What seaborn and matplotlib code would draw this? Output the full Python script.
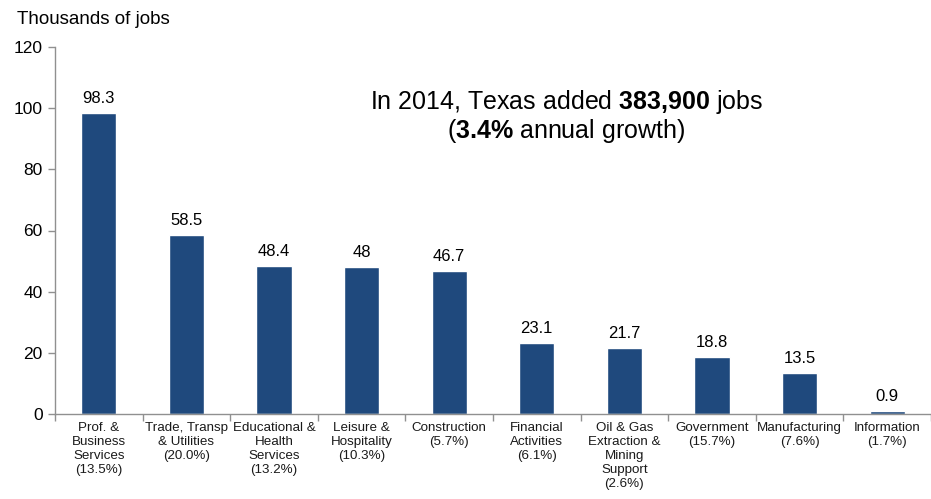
import matplotlib
matplotlib.use("Agg")
import matplotlib.pyplot as plt
import seaborn as sns
import pandas as pd
from matplotlib.ticker import FixedLocator

categories = [
    "Prof. &\nBusiness\nServices\n(13.5%)",
    "Trade, Transp\n& Utilities\n(20.0%)",
    "Educational &\nHealth\nServices\n(13.2%)",
    "Leisure &\nHospitality\n(10.3%)",
    "Construction\n(5.7%)",
    "Financial\nActivities\n(6.1%)",
    "Oil & Gas\nExtraction &\nMining\nSupport\n(2.6%)",
    "Government\n(15.7%)",
    "Manufacturing\n(7.6%)",
    "Information\n(1.7%)",
]
values = [98.3, 58.5, 48.4, 48, 46.7, 23.1, 21.7, 18.8, 13.5, 0.9]
value_labels = ["98.3", "58.5", "48.4", "48", "46.7", "23.1", "21.7", "18.8", "13.5", "0.9"]
yticks = [0, 20, 40, 60, 80, 100, 120]

sns.set_theme(style="white")
plt.rcParams["font.family"] = ["Liberation Sans", "DejaVu Sans"]
plt.rcParams["text.color"] = "black"
plt.rcParams["mathtext.fontset"] = "custom"
plt.rcParams["mathtext.rm"] = "Liberation Sans"
plt.rcParams["mathtext.bf"] = "Liberation Sans:bold"

df = pd.DataFrame({"cat": categories, "val": values})

fig = plt.figure(figsize=(9.31, 4.99), dpi=100)
ax = fig.add_axes([55 / 931, 1 - 414 / 499, 876 / 931, (414 - 47) / 499])

sns.barplot(data=df, x="cat", y="val", color="#1F497D", saturation=1,
            width=0.4, ax=ax)

ax.set_xlim(-0.5, len(categories) - 0.5)
ax.set_ylim(0, 120)
ax.set_yticks(yticks)
ax.set_yticklabels([str(t) for t in yticks], fontsize=12.5, color="black")
ax.set_xlabel("")
ax.set_ylabel("")

ax.set_xticks(range(len(categories)))
ax.set_xticklabels(categories, fontsize=9.6, color="#1a1a1a", linespacing=1.22,
                   va="top")
ax.tick_params(axis="x", which="major", length=0, pad=6)
ax.xaxis.set_minor_locator(FixedLocator([i - 0.5 for i in range(len(categories) + 1)]))
ax.tick_params(axis="x", which="minor", length=5, width=1, color="#909090",
               direction="out", bottom=True)
ax.tick_params(axis="y", which="major", length=5, width=1, color="#909090",
               direction="out", left=True, pad=4)

for s in ["top", "right"]:
    ax.spines[s].set_visible(False)
for s in ["left", "bottom"]:
    ax.spines[s].set_color("#909090")
    ax.spines[s].set_linewidth(1)

for i, (v, lab) in enumerate(zip(values, value_labels)):
    ax.annotate(lab, (i, v), xytext=(0, 5), textcoords="offset points",
                ha="center", va="bottom", fontsize=12, color="black")

fig.text(17 / 931, 1 - 19 / 499, "Thousands of jobs", fontsize=13.5,
         ha="left", va="center", color="black")

ax.text(0.584, 0.850, "In 2014, Texas added $\\mathbf{383{,}900}$ jobs",
        transform=ax.transAxes, ha="center", va="center", fontsize=18,
        color="black")
ax.text(0.584, 0.771, "($\\mathbf{3.4\\%}$ annual growth)",
        transform=ax.transAxes, ha="center", va="center", fontsize=18,
        color="black")

fig.savefig("out.png", dpi=100)
